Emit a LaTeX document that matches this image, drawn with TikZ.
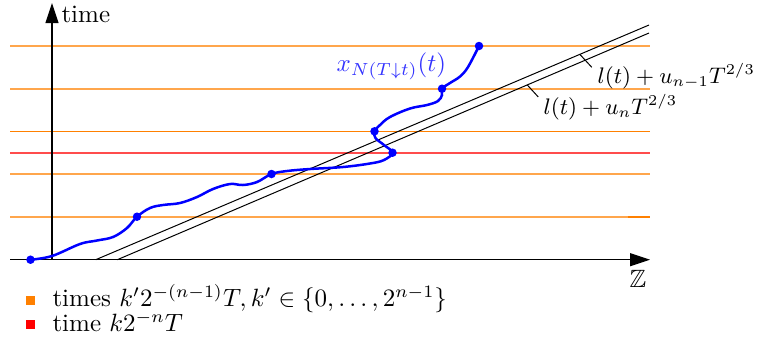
\documentclass[tikz,border=0pt]{standalone}
\usepackage{amssymb}
\usetikzlibrary{arrows.meta,calc}
\begin{document}
\begin{tikzpicture}[x=0.4pt,y=-0.4pt,
  axis/.style={line width=0.45pt,-{Triangle[length=8pt,width=5.2pt]}},
  lightgrid/.style={orange,opacity=0.7,line width=0.65pt},
  fullgrid/.style={orange,line width=0.65pt},
  redgrid/.style={red!70,line width=0.65pt},
  bound/.style={line width=0.4pt},
  walk/.style={blue,line width=1pt},
  dot/.style={circle,fill=blue,inner sep=0pt,minimum size=3.4pt},
  tick/.style={line width=0.4pt},
  legsq/.style={inner sep=0pt,minimum size=3.6pt},
  boundlab/.style={anchor=west,inner sep=0pt,font=\fontsize{8.7}{10}\selectfont}
]
\useasboundingbox (0,0) rectangle (759,343);
% horizontal time lines
\draw[lightgrid] (10,46) -- (650,46);
\draw[lightgrid] (10,88.7) -- (650,88.7);
\draw[fullgrid] (10,131.3) -- (650,131.3);
\draw[redgrid] (10,152.7) -- (650,152.7);
\draw[lightgrid] (10,174) -- (650,174);
\draw[lightgrid] (10,216.7) -- (650,216.7);
\draw[fullgrid] (628,216.7) -- (650,216.7);
% axes
\coordinate (o) at (52,259.7);
\coordinate (xl) at (10,259.7);
\coordinate (xr) at (650,259.7);
\coordinate (yt) at (52,3);
\draw[axis] (xl) -- (xr);
\draw[axis] (o) -- (yt);
\node[anchor=base west,inner sep=0pt] (tlab) at (61,22) {time};
\node[inner sep=0pt] (zlab) at (638,279) {$\mathbb{Z}$};
% boundary lines
\coordinate (l1s) at (95.7,259.7);
\coordinate (l1e) at (649,25);
\coordinate (l2s) at (117.3,259.7);
\coordinate (l2e) at (649,33);
\draw[bound] (l1s) -- (l1e);
\draw[bound] (l2s) -- (l2e);
\coordinate (p1) at ($(l1s)!0.875!(l1e)$);
\coordinate (p2) at ($(l2s)!0.771!(l2e)$);
\coordinate (q1) at ($(p1)+(12,13)$);
\coordinate (q2) at ($(p2)+(11,12)$);
\draw[tick] (p1) -- (q1);
\draw[tick] (p2) -- (q2);
\node[boundlab] (lab1) at (597,76) {$l(t)+u_{n-1}T^{2/3}$};
\node[boundlab] (lab2) at (543,107) {$l(t)+u_nT^{2/3}$};
% random walk
\coordinate (A) at (30.5,259.7);
\coordinate (B) at (137,216.7);
\coordinate (C) at (271.5,174);
\coordinate (D) at (392.5,152.7);
\coordinate (E) at (374.5,131.3);
\coordinate (F) at (442,88.7);
\coordinate (G) at (479,46);
\draw[walk] plot[smooth,tension=0.6] coordinates {(A) (52,256) (80,244) (97,240.5) (113,237) (127,228) (B)
  (150,208) (163,205) (180,203) (197,197) (213,189) (230,184) (243,185) (257,182) (C)
  (287,171) (310,169) (343,167) (370,163.5) (384,160) (D)
  (384,145) (375.5,138) (E)
  (380,125) (390,117) (410,108.5) (427,105) (438,101) (442,95) (F)
  (450,83) (460,76.5) (468,67) (G)};
\foreach \p in {A,B,C,D,E,F,G} \node[dot] at (\p) {};
\node[anchor=base west,inner sep=0pt,text=blue!80] (wlab) at (336,71) {$x_{N(T\downarrow t)}(t)$};
% legend
\node[legsq,fill=orange] (sq1) at (30.5,300) {};
\node[legsq,fill=red] (sq2) at (30.5,324.5) {};
\node[anchor=base west,inner sep=0pt] (leg1) at (52,306.7) {times $k'2^{-(n-1)}T, k'\in\{0,\ldots,2^{n-1}\}$};
\node[anchor=base west,inner sep=0pt] (leg2) at (52,331.7) {time $k2^{-n}T$};
\end{tikzpicture}
\end{document}
